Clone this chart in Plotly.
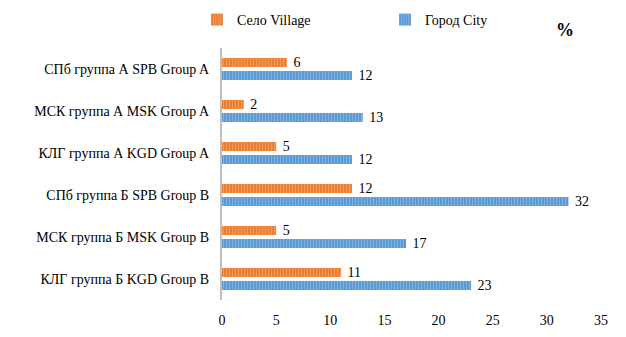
import plotly.graph_objects as go

categories = ["СПб группа А SPB Group A", "МСК группа А MSK Group A", "КЛГ группа А KGD Group A",
              "СПб группа Б SPB Group B", "МСК группа Б MSK Group B", "КЛГ группа Б KGD Group B"]
village = [6, 2, 5, 12, 5, 11]
city = [12, 13, 12, 32, 17, 23]

font = "Liberation Serif, Times New Roman, serif"

L, R, T, B = 222, 25, 48, 37
W, H = 626, 337
pw, ph = W - L - R, H - T - B

fig = go.Figure()
fig.add_trace(go.Bar(
    y=categories, x=city, orientation="h", name="Город City",
    marker=dict(color="#5B9BD5", line=dict(width=0),
                pattern=dict(shape="|", fgcolor="#A9C8EA", bgcolor="#5B9BD5", size=3, solidity=0.35)),
    text=city, texttemplate="\u00a0%{text}", textposition="outside", constraintext="none",
    textfont=dict(color="black", size=14, family=font),
    cliponaxis=False,
))
fig.add_trace(go.Bar(
    y=categories, x=village, orientation="h", name="Село Village",
    marker=dict(color="#ED7D31", line=dict(width=0),
                pattern=dict(shape="|", fgcolor="#F6B98E", bgcolor="#ED7D31", size=3, solidity=0.35)),
    text=village, texttemplate="\u00a0%{text}", textposition="outside", constraintext="none",
    textfont=dict(color="black", size=14, family=font),
    cliponaxis=False,
))

fig.update_layout(
    width=W, height=H,
    margin=dict(l=L, r=R, t=T, b=B, autoexpand=False),
    paper_bgcolor="white", plot_bgcolor="white",
    barmode="group", bargap=0.38, bargroupgap=0.31,
    font=dict(family=font, size=14, color="black"),
    legend=dict(orientation="h", x=(197 - L) / pw, y=1 + (T - 20) / ph, xanchor="left", yanchor="middle",
                traceorder="reversed", font=dict(size=14, family=font),
                itemwidth=30, entrywidth=143, entrywidthmode="pixels"),
    xaxis=dict(range=[0, 35], dtick=5, showgrid=False, zeroline=False, showline=False,
               ticks="", tickfont=dict(size=14, family=font), ticklabelstandoff=10, automargin=False),
    yaxis=dict(categoryorder="array", categoryarray=categories[::-1], showgrid=False,
               showline=True, linecolor="#BFBFBF", linewidth=2, ticks="",
               tickfont=dict(size=14, family=font), ticklabelstandoff=8, automargin=False),
    annotations=[dict(text="<b>%</b>", x=(565 - L) / pw, y=1 + (T - 30) / ph,
                      xref="paper", yref="paper", xanchor="center", yanchor="middle",
                      showarrow=False, font=dict(size=18, family=font))],
)

fig.write_html("out.html")
